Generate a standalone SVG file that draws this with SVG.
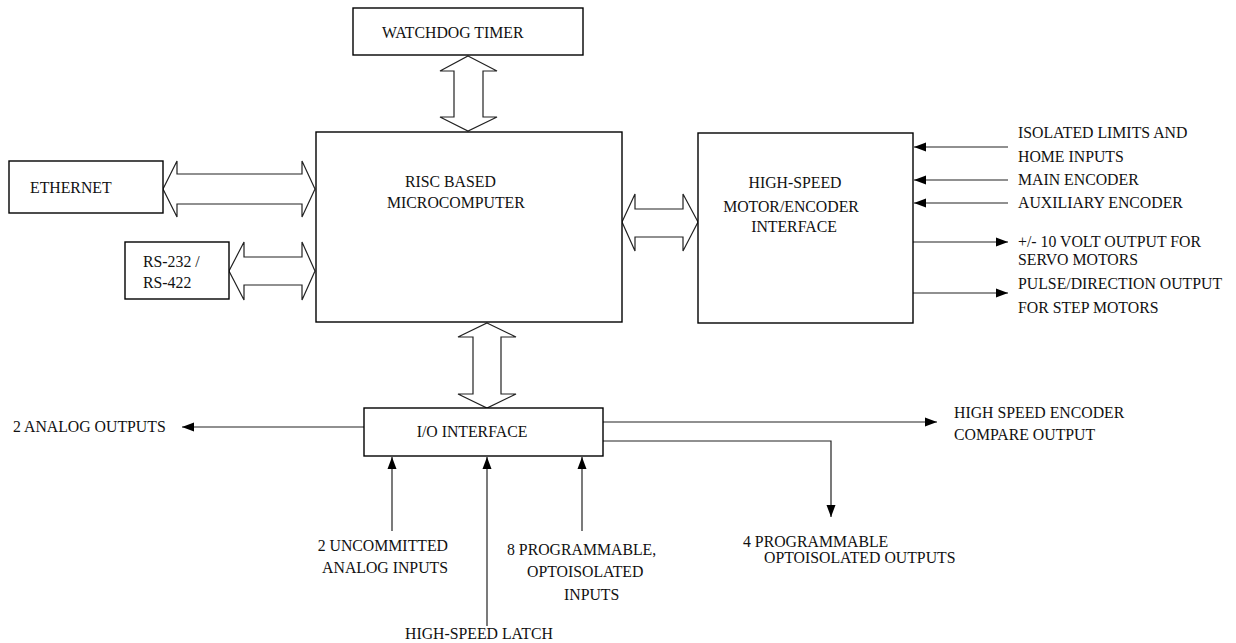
<svg xmlns="http://www.w3.org/2000/svg" width="1236" height="643" viewBox="0 0 1236 643">
<style>
.box{fill:#fff;stroke:#000;stroke-width:1.4}
.dbl{fill:#fff;stroke:#222;stroke-width:1.2}
.ln{fill:none;stroke:#222;stroke-width:1.2}
text{font-family:"Liberation Serif","Times New Roman",serif;font-size:15.8px;fill:#111}
</style>
<defs>
<marker id="ah" markerUnits="userSpaceOnUse" markerWidth="13" markerHeight="10" refX="12" refY="5" orient="auto">
<path d="M0,0.5 L12,5 L0,9.5 z" fill="#000"/>
</marker>
</defs>
<rect width="1236" height="643" fill="#fff"/>

<g id="connectors">
<polygon class="dbl" points="468,56 497,71 483,71 483,117 497,117 468,131 440,117 454,117 454,71 440,71"/>
<polygon class="dbl" points="163,189 177,161 177,174 302,174 302,161 315,189 302,217 302,204 177,204 177,217"/>
<polygon class="dbl" points="229,271 244,242 244,257 302,257 302,242 315,271 302,300 302,285 244,285 244,300"/>
<polygon class="dbl" points="622,222 635,194 635,209 683,209 683,194 698,222 683,251 683,237 635,237 635,251"/>
<polygon class="dbl" points="487,323 516,337 501,337 501,394 516,394 487,408 458,394 473,394 473,337 458,337"/>
<line class="ln" x1="1008" y1="147" x2="914" y2="147" marker-end="url(#ah)"/>
<line class="ln" x1="1008" y1="180" x2="914" y2="180" marker-end="url(#ah)"/>
<line class="ln" x1="1008" y1="203" x2="914" y2="203" marker-end="url(#ah)"/>
<line class="ln" x1="913" y1="242" x2="1008" y2="242" marker-end="url(#ah)"/>
<line class="ln" x1="913" y1="293" x2="1008" y2="293" marker-end="url(#ah)"/>
<line class="ln" x1="364" y1="427" x2="182" y2="427" marker-end="url(#ah)"/>
<line class="ln" x1="603" y1="422" x2="937" y2="422" marker-end="url(#ah)"/>
<polyline class="ln" points="603,441 831,441 831,517" marker-end="url(#ah)"/>
<line class="ln" x1="392" y1="531" x2="392" y2="457" marker-end="url(#ah)"/>
<line class="ln" x1="487" y1="626" x2="487" y2="457" marker-end="url(#ah)"/>
<line class="ln" x1="582" y1="531" x2="582" y2="457" marker-end="url(#ah)"/>
</g>

<g id="watchdog">
<rect class="box" x="353" y="8" width="230" height="47"/>
<text x="382" y="38">WATCHDOG TIMER</text>
</g>
<g id="microcomputer">
<rect class="box" x="316" y="132" width="306" height="190"/>
<text x="405" y="187">RISC BASED</text>
<text x="387" y="208">MICROCOMPUTER</text>
</g>
<g id="ethernet">
<rect class="box" x="9" y="161" width="154" height="52"/>
<text x="30" y="193">ETHERNET</text>
</g>
<g id="rs232">
<rect class="box" x="125" y="242" width="104" height="57"/>
<text x="143" y="267">RS-232 /</text>
<text x="143" y="288">RS-422</text>
</g>
<g id="motor">
<rect class="box" x="698" y="133" width="215" height="190"/>
<text x="795" y="188" text-anchor="middle">HIGH-SPEED</text>
<text x="791" y="212" text-anchor="middle">MOTOR/ENCODER</text>
<text x="794" y="232" text-anchor="middle">INTERFACE</text>
</g>
<g id="io">
<rect class="box" x="364" y="408" width="239" height="48"/>
<text x="472" y="437" text-anchor="middle">I/O INTERFACE</text>
</g>
<g id="labels">
<text x="1018" y="138">ISOLATED LIMITS AND</text>
<text x="1018" y="162">HOME INPUTS</text>
<text x="1018" y="185">MAIN ENCODER</text>
<text x="1018" y="208">AUXILIARY ENCODER</text>
<text x="1018" y="247">+/- 10 VOLT OUTPUT FOR</text>
<text x="1018" y="265">SERVO MOTORS</text>
<text x="1018" y="289">PULSE/DIRECTION OUTPUT</text>
<text x="1018" y="313">FOR STEP MOTORS</text>
<text x="13" y="432">2 ANALOG OUTPUTS</text>
<text x="954" y="418">HIGH SPEED ENCODER</text>
<text x="954" y="440">COMPARE OUTPUT</text>
<text x="448" y="551" text-anchor="end">2 UNCOMMITTED</text>
<text x="448" y="573" text-anchor="end">ANALOG INPUTS</text>
<text x="507" y="555">8 PROGRAMMABLE,</text>
<text x="527" y="577">OPTOISOLATED</text>
<text x="564" y="600">INPUTS</text>
<text x="405" y="639">HIGH-SPEED LATCH</text>
<text x="743" y="547">4 PROGRAMMABLE</text>
<text x="764" y="563">OPTOISOLATED OUTPUTS</text>
</g>
</svg>
